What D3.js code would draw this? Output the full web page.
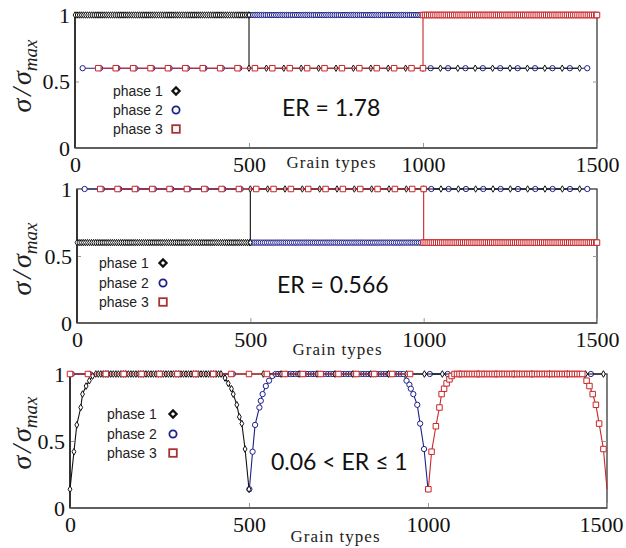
<!DOCTYPE html>
<html><head><meta charset="utf-8">
<script src="https://cdn.jsdelivr.net/npm/d3@7"></script>
<style>body{margin:0;background:#fff}svg{display:block}</style>
</head><body>
<script>
// ---------------- data ----------------
const xTickValues = [0, 500, 1000, 1500];
const yTickValues = [0, 0.5, 1];
const phaseNames = ["phase 1", "phase 2", "phase 3"];
const erLabels = ["ER = 1.78", "ER = 0.566", "0.06 < ER \u2264 1"];
const xAxisTitle = "Grain types";

// step panels: level of each phase in grain-type ranges 0-500, 500-1000, 1000-1500
const regionEdges = [0, 500, 1000, 1500];
const er178Phase1 = [1, 0.6, 0.6];
const er178Phase2 = [0.6, 1, 0.6];
const er178Phase3 = [0.6, 0.6, 1];
const er566Phase1 = [0.6, 1, 1];
const er566Phase2 = [1, 0.6, 1];
const er566Phase3 = [1, 1, 0.6];
// grain types carrying (sparse) markers outside each phase's own range
const stepSparsePhase1 = [500, 550, 600, 650, 700, 750, 800, 850, 900, 950, 1000, 1050, 1100, 1150, 1200, 1250, 1300, 1350, 1400, 1450];
const stepSparsePhase2 = [22, 72, 122, 172, 222, 272, 322, 372, 422, 472, 1022, 1072, 1122, 1172, 1222, 1272, 1322, 1372, 1422, 1472];
const stepSparsePhase3 = [67, 117, 167, 217, 267, 317, 367, 417, 467, 517, 567, 617, 667, 717, 767, 817, 867, 917, 967, 1000];

// bottom panel (0.06 < ER <= 1): dips at the range boundaries
const dipPhase1RiseX = [0, 11, 19, 30, 35, 45, 54, 63];
const dipPhase1RiseV = [0.14, 0.42, 0.62, 0.75, 0.85, 0.91, 0.95, 0.985];
const dipPhase1FallX = [433, 442, 451, 456, 466, 473, 480, 489, 500];
const dipPhase1FallV = [0.97, 0.93, 0.89, 0.85, 0.77, 0.68, 0.63, 0.44, 0.14];
const dipPhase2RiseX = [501, 510, 517, 529, 533, 538, 547, 556, 565];
const dipPhase2RiseV = [0.14, 0.42, 0.62, 0.75, 0.80, 0.85, 0.91, 0.95, 0.985];
const dipPhase2FallX = [940, 948, 952, 959, 970, 978, 989, 1000];
const dipPhase2FallV = [0.95, 0.92, 0.89, 0.85, 0.77, 0.63, 0.44, 0.14];
const dipPhase3RiseX = [1001, 1010, 1022, 1032, 1038, 1045, 1052, 1060, 1066];
const dipPhase3RiseV = [0.14, 0.42, 0.61, 0.75, 0.85, 0.89, 0.93, 0.96, 0.985];
const dipPhase3FallX = [1443, 1451, 1460, 1469, 1478, 1490, 1500];
const dipPhase3FallV = [0.95, 0.91, 0.85, 0.77, 0.63, 0.44, 0.14];
const plateauLevel = 1;
const plateauPhase1 = [72, 425];
const plateauPhase2 = [574, 932];
const plateauPhase3 = [1074, 1434];
const lastPointMarked = [true, true, false];
const dipSparsePhase1 = [540, 590, 640, 690, 740, 790, 840, 890, 940, 990, 1040, 1090, 1140, 1190, 1240, 1290, 1340, 1390, 1440, 1490];
const dipSparsePhase2 = [5, 55, 105, 155, 205, 255, 305, 355, 405, 455, 1005, 1055, 1105, 1155, 1205, 1255, 1305, 1355, 1405, 1455];
const dipSparsePhase3 = [0, 50, 100, 150, 200, 250, 300, 350, 400, 450, 500, 550, 600, 650, 700, 750, 800, 850, 900, 950];

// ---------------- styles / layout ----------------
const colors = ["#111111", "#1d2088", "#c8262a"];
const legendColors = ["#111111", "#1d2088", "#a83232"];
const symbolTypes = [d3.symbolDiamond, d3.symbolCircle, d3.symbolSquare];
const denseStep = [6, 6, 7];

const layout = [
  {x0:75, x1:597, yTop:15, yBot:148, legX:113, legMX:176, legY:[91,110,129], erX:282, erY:108, xtX:331, xtY:168, ylabY:76, ms:[12,22,30], lastDx:0},
  {x0:77, x1:597, yTop:189, yBot:323, legX:99, legMX:163, legY:[263,283,302], erX:277, erY:285, xtX:337, xtY:355, ylabY:259, ms:[12,22,30], lastDx:0},
  {x0:70, x1:607, yTop:374, yBot:508, legX:107, legMX:173, legY:[414,434,453], erX:271, erY:462, xtX:335, xtY:542, ylabY:433, ms:[13,22,30], lastDx:-6}
];

// ---------------- build series ----------------
function stepSeries(levels, own, sparseX, step) {
  const pts = [];
  const a = regionEdges[own], b = regionEdges[own + 1];
  d3.range(a, b, step).concat([b]).forEach(g => pts.push({x: g, v: levels[own], t: "d", m: true}));
  sparseX.forEach(g => {
    let r = Math.min(2, d3.bisectRight(regionEdges, g) - 1);
    if (r === own) r = g <= a ? own - 1 : own + 1;
    pts.push({x: g, v: levels[r], t: "s", m: true});
  });
  pts.sort((p, q) => p.x - q.x);
  return pts;
}
function orderJunction(pts) {
  for (let i = 0; i < pts.length - 1; i++) {
    if (pts[i].x === pts[i+1].x && pts[i].t !== pts[i+1].t) {
      const prevT = i > 0 ? pts[i-1].t : null;
      if (prevT && pts[i].t !== prevT) { const tmp = pts[i]; pts[i] = pts[i+1]; pts[i+1] = tmp; }
    }
  }
  return pts;
}
function segments(pts) {
  const segs = [];
  let cur = [];
  pts.forEach((p, i) => {
    if (i > 0) {
      const q = pts[i-1];
      if (q.t !== p.t && q.x !== p.x) { segs.push(cur); cur = []; }
    }
    cur.push(p);
  });
  if (cur.length) segs.push(cur);
  return segs;
}
function dipSeries(riseX, riseV, plateau, fallX, fallV, sparseX, step, lastMarked) {
  const pts = [];
  riseX.forEach((g, i) => pts.push({x: g, v: riseV[i], t: "c", m: true}));
  d3.range(plateau[0], plateau[1] + 0.1, step).forEach(g => pts.push({x: g, v: plateauLevel, t: "c", m: true}));
  fallX.forEach((g, i) => pts.push({x: g, v: fallV[i], t: "c", m: lastMarked || i < fallX.length - 1}));
  sparseX.forEach(g => pts.push({x: g, v: plateauLevel, t: "s", m: true}));
  pts.sort((p, q) => p.x - q.x);
  return pts;
}

const panelSeries = [
  [orderJunction(stepSeries(er178Phase1, 0, stepSparsePhase1, denseStep[0])),
   orderJunction(stepSeries(er178Phase2, 1, stepSparsePhase2, denseStep[0])),
   orderJunction(stepSeries(er178Phase3, 2, stepSparsePhase3, denseStep[0]))],
  [orderJunction(stepSeries(er566Phase1, 0, stepSparsePhase1, denseStep[1])),
   orderJunction(stepSeries(er566Phase2, 1, stepSparsePhase2, denseStep[1])),
   orderJunction(stepSeries(er566Phase3, 2, stepSparsePhase3, denseStep[1]))],
  [dipSeries(dipPhase1RiseX, dipPhase1RiseV, plateauPhase1, dipPhase1FallX, dipPhase1FallV, dipSparsePhase1, denseStep[2], lastPointMarked[0]),
   dipSeries(dipPhase2RiseX, dipPhase2RiseV, plateauPhase2, dipPhase2FallX, dipPhase2FallV, dipSparsePhase2, denseStep[2], lastPointMarked[1]),
   dipSeries(dipPhase3RiseX, dipPhase3RiseV, plateauPhase3, dipPhase3FallX, dipPhase3FallV, dipSparsePhase3, denseStep[2], lastPointMarked[2])]
];

// ---------------- draw ----------------
const svg = d3.select("body").append("svg").attr("width", 626).attr("height", 548);

layout.forEach((L, pi) => {
  const x = d3.scaleLinear().domain([0, 1500]).range([L.x0, L.x1]);
  const y = d3.scaleLinear().domain([0, 1]).range([L.yBot, L.yTop]);
  const g = svg.append("g");

  g.append("rect").attr("x", L.x0).attr("y", L.yTop).attr("width", L.x1 - L.x0).attr("height", L.yBot - L.yTop)
    .attr("fill", "none").attr("stroke", "#3a3a3a").attr("stroke-width", 1.3);

  const xa = g.append("g").attr("transform", `translate(0,${L.yBot})`)
    .call(d3.axisBottom(x).tickValues(xTickValues).tickSizeInner(-5).tickSizeOuter(0).tickPadding(8).tickFormat(d3.format("d")));
  const ya = g.append("g").attr("transform", `translate(${L.x0},0)`)
    .call(d3.axisLeft(y).tickValues(yTickValues).tickSizeInner(-4).tickSizeOuter(0).tickPadding(5).tickFormat(d => d === 0.5 ? "0.5" : String(d)));
  const ra = g.append("g").attr("transform", `translate(${L.x1},0)`)
    .call(d3.axisRight(y).tickValues([0.5]).tickSizeInner(-4).tickSizeOuter(0).tickFormat(""));
  [xa, ya, ra].forEach(a => {
    a.select(".domain").remove();
    a.selectAll(".tick line").attr("stroke", "#9a9a9a").attr("stroke-width", 1);
    a.selectAll(".tick text").attr("font-family", "'Liberation Serif', serif").attr("font-size", 22).attr("fill", "#111");
  });
  xa.selectAll(".tick text").filter(d => d === 1500).attr("dx", L.lastDx);

  g.append("line").attr("x1", L.x0).attr("x2", L.x0).attr("y1", L.yTop).attr("y2", L.yBot).attr("stroke", "#222").attr("stroke-width", 1.6);
  g.append("line").attr("x1", L.x0).attr("x2", L.x1).attr("y1", L.yBot).attr("y2", L.yBot).attr("stroke", "#555").attr("stroke-width", 1.6);

  const line = d3.line().x(d => x(d.x)).y(d => y(d.v));
  [1, 0, 2].forEach(si => {
    const pts = panelSeries[pi][si];
    const sg = g.append("g");
    segments(pts).forEach(seg => {
      sg.append("path").attr("d", line(seg)).attr("fill", "none").attr("stroke", colors[si]).attr("stroke-width", 1.1);
    });
    const sym = d3.symbol().type(symbolTypes[si]).size(L.ms[si]);
    sg.selectAll("path.mk").data(pts.filter(d => d.m)).join("path").attr("class", "mk")
      .attr("transform", d => `translate(${x(d.x)},${y(d.v)})`)
      .attr("d", sym).attr("fill", "#fff").attr("stroke", colors[si]).attr("stroke-width", 1);
  });

  phaseNames.forEach((nm, i) => {
    g.append("text").attr("x", L.legX).attr("y", L.legY[i]).attr("dy", "0.35em")
      .attr("font-family", "'Liberation Sans', Arial, sans-serif").attr("font-size", 14).attr("fill", "#222").text(nm);
    const mg = g.append("g").attr("transform", `translate(${L.legMX},${L.legY[i]})`);
    if (i === 0) mg.append("path").attr("d", "M0,-3.6L3.6,0L0,3.6L-3.6,0Z").attr("fill", "#fff").attr("stroke", legendColors[0]).attr("stroke-width", 2.2);
    if (i === 1) mg.append("circle").attr("r", 3.6).attr("fill", "#fff").attr("stroke", legendColors[1]).attr("stroke-width", 1.8);
    if (i === 2) mg.append("rect").attr("x", -3.8).attr("y", -3.8).attr("width", 7.6).attr("height", 7.6).attr("fill", "#fff").attr("stroke", legendColors[2]).attr("stroke-width", 1.8);
  });

  g.append("text").attr("x", L.erX).attr("y", L.erY).attr("dy", "0.35em")
    .attr("font-family", "Lato, 'Open Sans', sans-serif").attr("font-size", 23).attr("fill", "#111").text(erLabels[pi]);

  g.append("text").attr("x", L.xtX).attr("y", L.xtY).attr("text-anchor", "middle")
    .attr("font-family", "'Liberation Serif', serif").attr("font-size", 17).attr("fill", "#222")
    .attr("textLength", 89).attr("lengthAdjust", "spacing").text(xAxisTitle);

  const yt = g.append("text").attr("transform", `translate(31,${L.ylabY}) rotate(-90)`).attr("text-anchor", "middle")
    .attr("font-family", "'Liberation Serif', serif").attr("font-style", "italic").attr("font-size", 28).attr("fill", "#222");
  yt.append("tspan").text("\u03C3");
  yt.append("tspan").attr("dx", 3).text("/");
  yt.append("tspan").attr("dx", 3).text("\u03C3");
  yt.append("tspan").attr("font-size", 19).attr("dy", 6).text("max");
});
</script>
</body></html>
